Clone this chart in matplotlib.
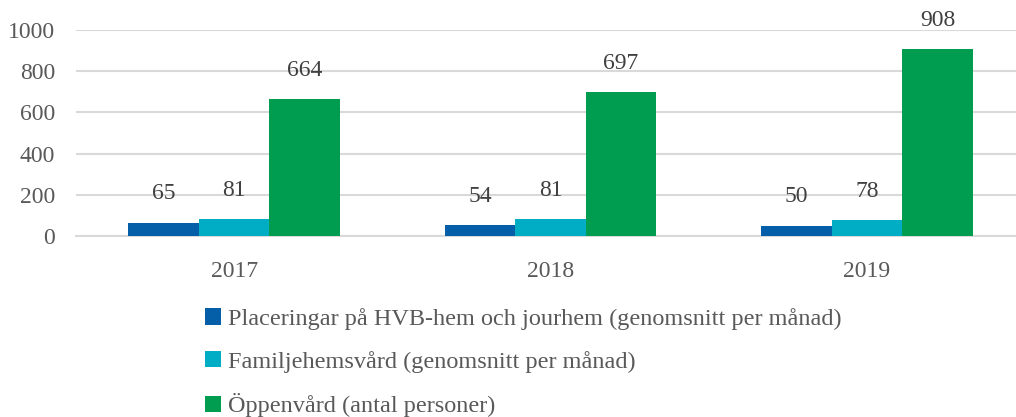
import matplotlib.pyplot as plt
from matplotlib.patches import Patch
import numpy as np

years = ['2017', '2018', '2019']
hvb = [65, 54, 50]
familj = [81, 81, 78]
oppen = [664, 697, 908]
series_names = ['Placeringar på HVB-hem och jourhem (genomsnitt per månad)',
                'Familjehemsvård (genomsnitt per månad)',
                'Öppenvård (antal personer)']
colors = ['#055ea8', '#00adc4', '#009c4f']

plt.rcParams['font.family'] = ['Liberation Serif', 'DejaVu Serif']
text_col = '#404040'
fs = 17

fig = plt.figure(figsize=(10.16, 4.17), dpi=100)
W, H = 1016, 417
ax = fig.add_axes([76 / W, (H - 236) / H, (1016 - 76) / W, 206 / H])

x = np.arange(len(years))
bw = 0.223
for i, (vals, c) in enumerate(zip([hvb, familj, oppen], colors)):
    bars = ax.bar(x + (i - 1) * bw, vals, width=bw, color=c, zorder=3)
    for b, v in zip(bars, vals):
        ax.text(b.get_x() + b.get_width() / 2, v + 140, str(v), ha='center', va='center',
                fontsize=fs, color=text_col)

ax.set_ylim(0, 1000)
ax.set_xlim(-0.5, 2.5 - 9 / 316)
ax.set_yticks(range(0, 1001, 200))
ax.set_xticks(x)
ax.set_xticklabels(years)
ax.grid(axis='y', color='#d9d9d9', linewidth=1.5, zorder=0)
for s in ['top', 'right', 'left']:
    ax.spines[s].set_visible(False)
ax.spines['bottom'].set_color('#d9d9d9')
ax.spines['bottom'].set_linewidth(1.5)
ax.tick_params(axis='both', length=0, labelsize=fs, colors='#595959')
ax.tick_params(axis='x', pad=18)
ax.tick_params(axis='y', pad=15)

handles = [Patch(facecolor=c) for c in colors]
fig.legend(handles, series_names, loc='upper left', bbox_to_anchor=(205 / W, 1 - 308 / H),
           frameon=False, fontsize=17.5, labelcolor='#595959', handlelength=0.65,
           handleheight=0.65, handletextpad=0.3, labelspacing=0.85,
           borderpad=0, borderaxespad=0)

fig.savefig('out.png', dpi=100)
